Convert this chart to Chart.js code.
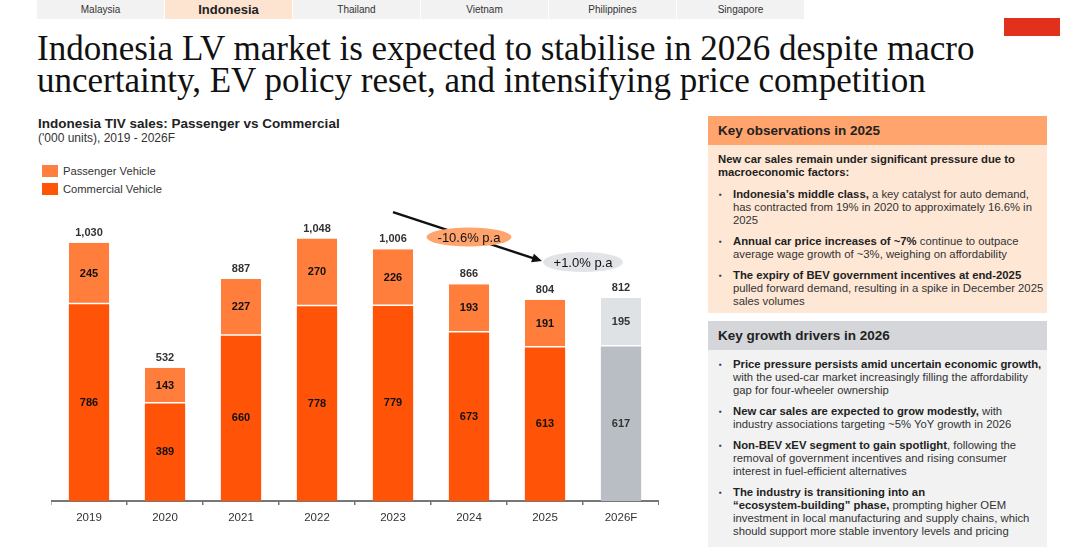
<html>
<head>
<meta charset="utf-8"/>
<title>Indonesia LV market</title>
<script src="https://cdn.jsdelivr.net/npm/chart.js@4/dist/chart.umd.min.js"></script>
<style>
  body { margin:0; width:1080px; height:547px; position:relative; overflow:hidden; background:#fff; font-family:"Liberation Sans", Arial, sans-serif; color:#333; }
  .tabs { position:absolute; left:37px; top:0; height:19px; display:flex; }
  .tab { width:127px; height:19px; line-height:19px; text-align:center; font-size:10px; background:#f2f2f2; border-right:1px solid #fff; color:#333; }
  .tab.on { background:#fde4d0; font-size:13px; font-weight:bold; color:#222; }
  .redbox { position:absolute; left:1004px; top:18px; width:56px; height:18px; background:#e1301b; }
  h1 { position:absolute; left:37px; top:33px; margin:0; font-family:"Liberation Serif", serif; font-weight:normal; font-size:32px; line-height:32px; color:#111; white-space:nowrap; }
  .ctitle { position:absolute; left:38px; top:116px; font-size:13.5px; font-weight:bold; color:#222; }
  .csub { position:absolute; left:38px; top:131px; font-size:12px; color:#333; }
  .leg { position:absolute; left:42px; font-size:11.2px; color:#333; line-height:12px; }
  .leg i { display:inline-block; width:16px; height:12px; vertical-align:top; margin-right:5px; }
  #wrap { position:absolute; left:51px; top:200px; width:608px; height:335px; }
  .panel { position:absolute; left:708px; width:339px; }
  .phead { height:29px; line-height:29px; padding-left:10px; font-size:13.5px; font-weight:bold; color:#222; }
  .pbody { padding:8px 0 0 10px; font-size:11.3px; line-height:13px; color:#333; white-space:nowrap; }
  .pbody b { color:#222; }
  .pbody .it { position:relative; padding-left:15px; margin-bottom:8px; }
  .pbody .it:before { content:"\25AA"; position:absolute; left:1px; top:0; font-size:8px; }
  .intro { margin-bottom:9px; }
</style>
</head>
<body>

<div class="tabs">
  <div class="tab">Malaysia</div>
  <div class="tab on">Indonesia</div>
  <div class="tab">Thailand</div>
  <div class="tab">Vietnam</div>
  <div class="tab">Philippines</div>
  <div class="tab">Singapore</div>
</div>
<div class="redbox"></div>

<h1 id="title"><span id="t1">Indonesia LV market is expected to stabilise in 2026 despite macro</span><br>uncertainty, EV policy reset, and intensifying price competition</h1>

<div class="ctitle">Indonesia TIV sales: Passenger vs Commercial</div>
<div class="csub">('000 units), 2019 - 2026F</div>
<div class="leg" style="top:165px"><i style="background:#fd8040"></i>Passenger Vehicle</div>
<div class="leg" style="top:183px"><i style="background:#ff5506"></i>Commercial Vehicle</div>

<div id="wrap"><canvas id="myChart"></canvas></div>

<div class="panel" style="top:116px">
  <div class="phead" style="background:#ffa46c">Key observations in 2025</div>
  <div class="pbody" style="background:#fee7d5;height:160px">
    <div class="intro"><b>New car sales remain under significant pressure due to<br>macroeconomic factors:</b></div>
    <div class="it"><b>Indonesia’s middle class,</b> a key catalyst for auto demand,<br>has contracted from 19% in 2020 to approximately 16.6% in<br>2025</div>
    <div class="it"><b>Annual car price increases of ~7%</b> continue to outpace<br>average wage growth of ~3%, weighing on affordability</div>
    <div class="it"><b>The expiry of BEV government incentives at end-2025</b><br>pulled forward demand, resulting in a spike in December 2025<br>sales volumes</div>
  </div>
</div>

<div class="panel" style="top:321px">
  <div class="phead" style="background:#d4d6d9">Key growth drivers in 2026</div>
  <div class="pbody" style="background:#f2f2f2;height:200px">
    <div class="it"><b>Price pressure persists amid uncertain economic growth,</b><br>with the used-car market increasingly filling the affordability<br>gap for four-wheeler ownership</div>
    <div class="it"><b>New car sales are expected to grow modestly,</b> with<br>industry associations targeting ~5% YoY growth in 2026</div>
    <div class="it"><b>Non-BEV xEV segment to gain spotlight</b>, following the<br>removal of government incentives and rising consumer<br>interest in fuel-efficient alternatives</div>
    <div class="it"><b>The industry is transitioning into an<br>“ecosystem-building” phase,</b> prompting higher OEM<br>investment in local manufacturing and supply chains, which<br>should support more stable inventory levels and pricing</div>
  </div>
</div>

<script>
    // fit title width to the slide
    var t1 = document.getElementById("t1");
    var tw = t1.getBoundingClientRect().width;
    document.getElementById("title").style.fontSize = (32 * 938 / tw) + "px";

    var years = ['2019','2020','2021','2022','2023','2024','2025','2026F'];
    var passenger = [245,143,227,270,226,193,191,195];
    var commercial = [786,389,660,778,779,673,613,617];
    var totals = [1030,532,887,1048,1006,866,804,812];
    var cagrLabels = ['-10.6% p.a','+1.0% p.a'];

    var pvColors = [], cvColors = [];
    for (var i=0;i<years.length;i++){
        var fc = years[i].indexOf('F') > -1;
        pvColors.push(fc ? '#dfe2e5' : '#ff7e3b');
        cvColors.push(fc ? '#b8bec4' : '#ff5308');
    }

    var labelPlugin = {
        id: 'labels',
        afterDatasetsDraw: function(chart){
            var c = chart.ctx;
            var xs = chart.scales.x, ys = chart.scales.y;
            c.save();
            c.textAlign = 'center';
            c.textBaseline = 'middle';
            c.font = 'bold 11px "Liberation Sans", Arial';
            chart.data.datasets.forEach(function(ds, di){
                var meta = chart.getDatasetMeta(di);
                meta.data.forEach(function(bar, i){
                    c.fillStyle = years[i].indexOf('F') > -1 ? '#333' : '#111';
                    c.fillText(ds.data[i], bar.x, (bar.y + bar.base) / 2);
                });
            });
            c.fillStyle = '#333';
            var top = chart.getDatasetMeta(1);
            top.data.forEach(function(bar, i){
                c.fillText(totals[i].toLocaleString('en-US'), bar.x, bar.y - 10);
            });

            // arrow 2023 -> 2025
            var x0 = xs.getPixelForValue(4), y0 = ys.getPixelForValue(1154);
            var x1 = xs.getPixelForValue(6) - 3, y1 = ys.getPixelForValue(958);
            c.strokeStyle = '#111';
            c.fillStyle = '#111';
            c.lineWidth = 2.4;
            c.beginPath(); c.moveTo(x0, y0); c.lineTo(x1 - 6, y1 - 2); c.stroke();
            var a = Math.atan2(y1 - y0, x1 - x0);
            c.beginPath();
            c.moveTo(x1, y1);
            c.lineTo(x1 - 10*Math.cos(a) + 4.5*Math.sin(a), y1 - 10*Math.sin(a) - 4.5*Math.cos(a));
            c.lineTo(x1 - 10*Math.cos(a) - 4.5*Math.sin(a), y1 - 10*Math.sin(a) + 4.5*Math.cos(a));
            c.closePath(); c.fill();

            // CAGR ellipses
            var ells = [
                {x:(xs.getPixelForValue(4)+xs.getPixelForValue(6))/2, y:ys.getPixelForValue(1054), w:85, h:19, fill:'#ffa46c', text:cagrLabels[0]},
                {x:(xs.getPixelForValue(6)+xs.getPixelForValue(7))/2, y:ys.getPixelForValue(954), w:80, h:20, fill:'#e1e3e6', text:cagrLabels[1]}
            ];
            c.font = '13px "Liberation Sans", Arial';
            ells.forEach(function(e){
                c.fillStyle = e.fill;
                c.beginPath(); c.ellipse(e.x, e.y, e.w/2, e.h/2, 0, 0, Math.PI*2); c.fill();
                c.fillStyle = '#111';
                c.fillText(e.text, e.x, e.y + 1);
            });
            c.restore();
        }
    };

    var ctx = document.getElementById("myChart");
    var myChart = new Chart(ctx, {
        type: 'bar',
        data: {
            labels: years,
            datasets: [
                {label:'Commercial Vehicle', data:commercial, backgroundColor:cvColors, borderWidth:0},
                {label:'Passenger Vehicle', data:passenger, backgroundColor:pvColors,
                 borderColor:'rgba(255,255,255,0.85)', borderWidth:{top:0,left:0,right:0,bottom:1.5}, borderSkipped:false}
            ]
        },
        options: {
            responsive: true,
            maintainAspectRatio: false,
            animation: false,
            layout: { padding: 0 },
            plugins: { legend: {display:false}, tooltip: {enabled:false} },
            datasets: { bar: { categoryPercentage: 1, barPercentage: 0.53 } },
            scales: {
                x: {
                    stacked: true,
                    grid: { display:true, drawOnChartArea:false, drawTicks:true, tickLength:4, color:'#777', lineWidth:1.5, offset:true },
                    border: { display:true, color:'#777', width:2 },
                    ticks: { color:'#333', font:{ family:'"Liberation Sans", Arial', size:11.5 }, padding:6 },
                    afterFit: function(s){ s.height = 34; }
                },
                y: { stacked:true, display:false, min:0, max:1202 }
            }
        },
        plugins: [labelPlugin]
    });
</script>
</body>
</html>
